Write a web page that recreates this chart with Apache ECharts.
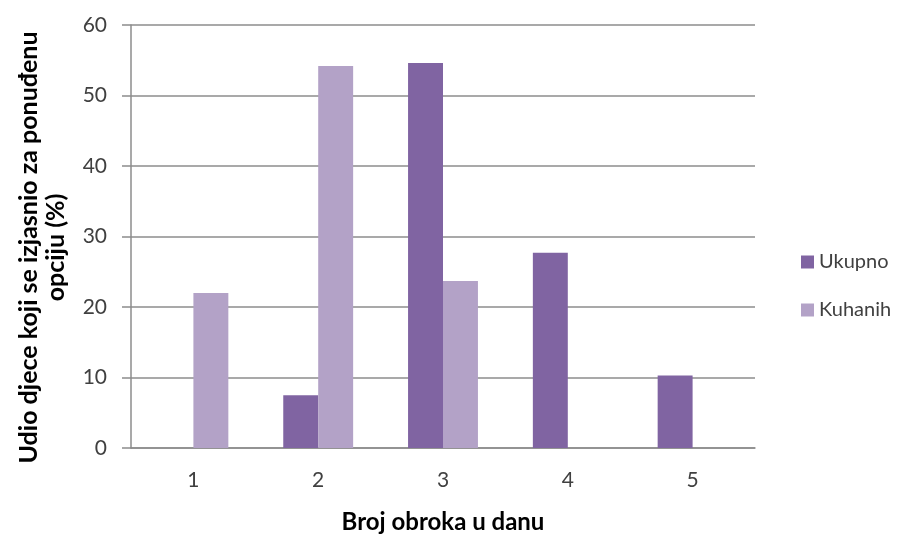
<!DOCTYPE html>
<html>
<head>
<meta charset="utf-8">
<script src="https://cdn.jsdelivr.net/npm/echarts@6/dist/echarts.min.js"></script>
<style>
html, body { margin: 0; padding: 0; background: #fff; }
#chart { width: 909px; height: 537px; }
</style>
</head>
<body>
<div id="chart"></div>
<script>
// podaci s grafa
var kategorije = ['1', '2', '3', '4', '5'];
var ukupno = [0, 7.5, 54.6, 27.7, 10.3];
var kuhanih = [22.0, 54.2, 23.7, 0, 0];
var yTicks = [0, 10, 20, 30, 40, 50, 60];

var chart = echarts.init(document.getElementById('chart'));
var font = 'Lato, "Liberation Sans", sans-serif';
var option = {
    animation: false,
    textStyle: { fontFamily: font },
    color: ['#8064A2', '#B3A2C7'],
    grid: { left: 131, right: 154, top: 25, bottom: 89, outerBoundsMode: 'none', containLabel: false },
    legend: {
        orient: 'vertical',
        left: 796,
        top: 247,
        icon: 'rect',
        itemWidth: 13,
        itemHeight: 13,
        itemGap: 28,
        textStyle: { fontSize: 20, color: '#404040', fontFamily: font },
        data: ['Ukupno', 'Kuhanih']
    },
    xAxis: {
        type: 'category',
        data: kategorije,
        name: 'Broj obroka u danu',
        nameLocation: 'middle',
        nameGap: 62,
        nameTextStyle: { fontSize: 24, fontWeight: 'bold', color: '#000', fontFamily: font },
        axisLine: { lineStyle: { color: '#8c8c8c', width: 1.5 } },
        axisTick: { show: false },
        axisLabel: { fontSize: 21, color: '#404040', margin: 22 }
    },
    yAxis: {
        type: 'value',
        min: yTicks[0],
        max: yTicks[yTicks.length - 1],
        interval: 10,
        name: 'Udio djece koji se izjasnio za ponuđenu\nopciju (%)',
        nameLocation: 'middle',
        nameRotate: 90,
        nameGap: 62,
        nameTextStyle: { fontSize: 25, fontWeight: 'bold', color: '#000', lineHeight: 27, fontFamily: font, padding: [0, 22, 0, 0] },
        axisLine: { show: true, lineStyle: { color: '#8c8c8c', width: 1.5 } },
        axisTick: { show: true, length: 9, lineStyle: { color: '#8c8c8c', width: 1.5 } },
        splitLine: { lineStyle: { color: '#8c8c8c', width: 1.5 } },
        axisLabel: { fontSize: 21, color: '#404040', margin: 24 }
    },
    series: [
        {
            name: 'Ukupno',
            type: 'bar',
            barGap: '0%',
            barCategoryGap: '44%',
            data: ukupno
        },
        {
            name: 'Kuhanih',
            type: 'bar',
            barGap: '0%',
            barCategoryGap: '44%',
            data: kuhanih
        }
    ]
};
chart.setOption(option);
</script>
</body>
</html>
